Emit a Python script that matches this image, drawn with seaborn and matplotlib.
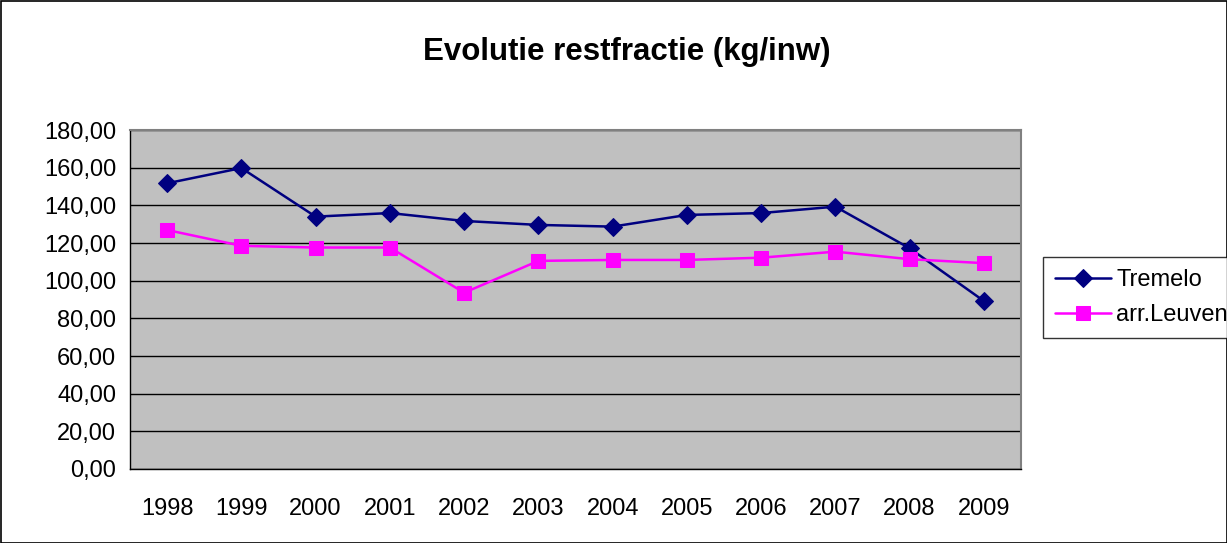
import matplotlib
matplotlib.use("Agg")
import matplotlib.pyplot as plt
import seaborn as sns
import pandas as pd
from matplotlib.ticker import FuncFormatter, FixedLocator

years = ["1998", "1999", "2000", "2001", "2002", "2003", "2004", "2005", "2006", "2007", "2008", "2009"]
tremelo = [151.7, 159.8, 134.0, 135.9, 131.7, 129.6, 128.7, 134.9, 135.9, 139.3, 117.2, 89.2]
leuven = [126.9, 118.5, 117.6, 117.6, 93.6, 110.5, 111.0, 111.0, 112.2, 115.4, 111.4, 109.3]
series_names = ["Tremelo", "arr.Leuven"]
colors = ["#000080", "#FF00FF"]
markers = ["D", "s"]

sns.set_style("white")
plt.rcParams["font.family"] = ["Liberation Sans", "DejaVu Sans"]
plt.rcParams["text.color"] = "black"
plt.rcParams["xtick.color"] = "black"
plt.rcParams["ytick.color"] = "black"

df = pd.DataFrame({
    "pos": list(range(len(years))) * 2,
    "value": tremelo + leuven,
    "series": [series_names[0]] * len(years) + [series_names[1]] * len(years),
})

fig = plt.figure(figsize=(12.27, 5.43), dpi=100)
ax = fig.add_axes([130 / 1227, 1 - 469 / 543, (1021 - 130) / 1227, (469 - 130) / 543])
ax.set_facecolor("#C0C0C0")

for name, col, mk in zip(series_names, colors, markers):
    sub = df[df["series"] == name]
    sns.lineplot(data=sub, x="pos", y="value", ax=ax, color=col, marker=mk,
                 markersize=9 if mk == "D" else 10, markeredgecolor=col, linewidth=1.8,
                 label=name, legend=False)

ax.set_xlim(-0.5, len(years) - 0.5)
ax.set_ylim(0, 180)
ax.set_yticks(range(0, 181, 20))
ax.yaxis.set_major_formatter(FuncFormatter(lambda v, p: f"{v:.2f}".replace(".", ",")))
ax.set_xticks(range(len(years)))
ax.set_xticklabels(years)
ax.xaxis.set_minor_locator(FixedLocator([i - 0.5 for i in range(len(years) + 1)]))
ax.tick_params(axis="x", which="major", length=0, pad=21, labelsize=17, labelcolor="black")
ax.tick_params(axis="x", which="minor", length=7, width=1, color="black", direction="out")
ax.tick_params(axis="y", length=7, width=1, color="black", direction="out", pad=3, labelsize=17,
               labelcolor="black")
ax.grid(axis="y", color="black", linewidth=1)
ax.set_axisbelow(True)
ax.set_xlabel("")
ax.set_ylabel("")
for s in ["top", "right"]:
    ax.spines[s].set_color("#808080")
    ax.spines[s].set_linewidth(1.5)
for s in ["left", "bottom"]:
    ax.spines[s].set_color("black")
    ax.spines[s].set_linewidth(1)

fig.text(627 / 1227, 1 - 52 / 543, "Evolutie restfractie (kg/inw)", ha="center", va="center",
         fontsize=22.5, fontweight="bold", color="black")

handles, labels = ax.get_legend_handles_labels()
leg = fig.legend(handles, labels, loc="upper left", bbox_to_anchor=(1043 / 1227, 1 - 257 / 543),
                 frameon=True, fancybox=False, edgecolor="black", fontsize=17,
                 handlelength=2.4, handletextpad=0.2, borderpad=0.5, labelspacing=0.55,
                 borderaxespad=0, labelcolor="black")
leg.get_frame().set_linewidth(1)

border = plt.Rectangle((0.5 / 1227, 0.5 / 543), 1 - 1 / 1227, 1 - 1 / 543, transform=fig.transFigure,
                       fill=False, edgecolor="black", linewidth=1.2)
fig.patches.append(border)

fig.savefig("out.png", dpi=100, facecolor="white")
